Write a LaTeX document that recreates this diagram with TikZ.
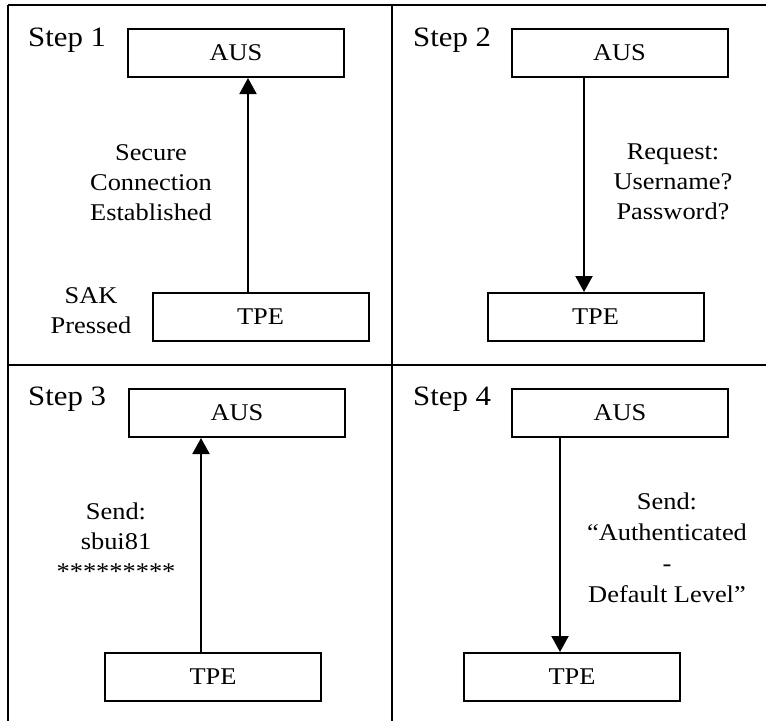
\documentclass[tikz,border=0pt]{standalone}
\usepackage{fontspec}
\setmainfont{Liberation Serif}[FakeStretch=1.1]
\usetikzlibrary{arrows.meta}
\begin{document}
\begin{tikzpicture}[x=1pt,y=-1pt,
  frame/.style={line width=2pt},
  entity/.style={draw,line width=2pt,rectangle,minimum width=216pt,minimum height=48pt,inner sep=0pt,
    font=\fontsize{24}{30}\selectfont},
  flow/.style={line width=2pt,-{Triangle[width=17pt,length=16pt]}},
  note/.style={align=center,inner sep=0pt,anchor=base,font=\fontsize{24}{30}\selectfont},
  steplabel/.style={inner sep=0pt,anchor=base west,font=\fontsize{28}{34}\selectfont}]
\useasboundingbox (0,0) rectangle (766,721);

% table rules
\draw[frame] (8,5) -- (766,5);
\draw[frame] (8,365) -- (766,365);
\draw[frame] (8,5) -- (8,721);
\draw[frame] (392,5) -- (392,721);

% Step 1 (note nodes are placed at the baseline of their last line)
\node[steplabel] (s1) at (28,46) {Step 1};
\node[entity] (aus1) at (236,53) {AUS};
\node[entity] (tpe1) at (260.5,317) {TPE};
\coordinate (x1) at (248,0);
\draw[flow] (tpe1.north -| x1) -- (aus1.south -| x1);
\node[note] (m1) at (151,220) {Secure\\Connection\\Established};
\node[note] (k1) at (91,333) {SAK\\Pressed};

% Step 2
\node[steplabel] (s2) at (413,46) {Step 2};
\node[entity] (aus2) at (619.5,53) {AUS};
\node[entity] (tpe2) at (595.5,317) {TPE};
\coordinate (x2) at (584,0);
\draw[flow] (aus2.south -| x2) -- (tpe2.north -| x2);
\node[note] (m2) at (673,219) {Request:\\Username?\\Password?};

% Step 3
\node[steplabel] (s3) at (28,405) {Step 3};
\node[entity] (aus3) at (237,413) {AUS};
\node[entity] (tpe3) at (213,677) {TPE};
\coordinate (x3) at (201,0);
\draw[flow] (tpe3.north -| x3) -- (aus3.south -| x3);
\node[note] (m3) at (116,579) {Send:\\sbui81\\*********};

% Step 4
\node[steplabel] (s4) at (413,405) {Step 4};
\node[entity] (aus4) at (620,413) {AUS};
\node[entity] (tpe4) at (572,677) {TPE};
\coordinate (x4) at (560,0);
\draw[flow] (aus4.south -| x4) -- (tpe4.north -| x4);
\node[note,font=\fontsize{24}{30.7}\selectfont] (m4) at (667,602) {Send:\\“Authenticated\\-\\Default Level”};
\end{tikzpicture}
\end{document}
